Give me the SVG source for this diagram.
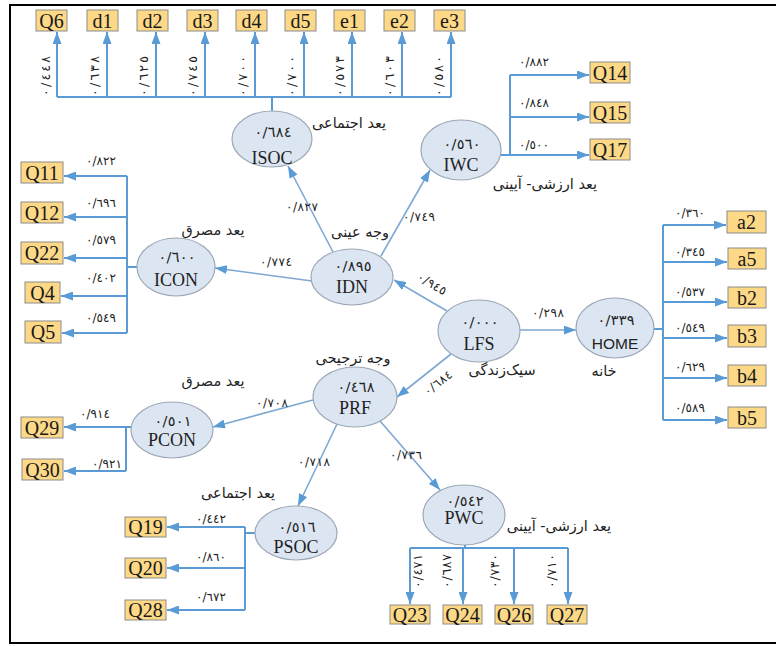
<svg xmlns="http://www.w3.org/2000/svg" width="776" height="646" viewBox="0 0 776 646">
<defs>
<style>
.frame{fill:none;stroke:#000;stroke-width:2}
.box rect{fill:#FCD887;stroke:#8C8C8C;stroke-width:1}
.box text{font-family:"Liberation Serif",serif;font-size:20px;fill:#1a1a1a;text-anchor:middle}
.node ellipse{fill:#DCE6F2;stroke:#9DA8B6;stroke-width:1.2}
.val{font-family:"DejaVu Sans",sans-serif;font-size:14.5px;fill:#222;text-anchor:middle}
.nm{font-family:"Liberation Serif",serif;font-size:18px;fill:#222;text-anchor:middle}
.nms{font-family:"Liberation Sans",sans-serif;font-size:15.5px;fill:#222;text-anchor:middle}
.fa{font-family:"DejaVu Sans",sans-serif;font-size:14.5px;fill:#222;text-anchor:middle;direction:rtl}
.bus{fill:none;stroke:#5B9BD5;stroke-width:2}
.ln{fill:none;stroke:#7EA8D3;stroke-width:1.6}
.el{font-family:"DejaVu Sans",sans-serif;font-size:12px;fill:#222;text-anchor:middle}
.er{font-family:"DejaVu Sans",sans-serif;font-size:12.5px;fill:#222;text-anchor:middle}
</style>
<marker id="ah" viewBox="0 0 12 9" refX="12" refY="4.5" markerWidth="12" markerHeight="9" markerUnits="userSpaceOnUse" orient="auto"><path d="M0,0 L12,4.5 L0,9 z" fill="#5B9BD5"/></marker>
</defs>
<rect x="0" y="0" width="776" height="646" fill="#fff"/>
<rect class="frame" x="10" y="5" width="775" height="638"/>

<g id="connectors">
<path class="bus" d="M57,97 H451 M272,111 V97"/>
<path class="bus" marker-end="url(#ah)" d="M57,97 V32"/>
<path class="bus" marker-end="url(#ah)" d="M107,97 V32"/>
<path class="bus" marker-end="url(#ah)" d="M156,97 V32"/>
<path class="bus" marker-end="url(#ah)" d="M205,97 V32"/>
<path class="bus" marker-end="url(#ah)" d="M255,97 V32"/>
<path class="bus" marker-end="url(#ah)" d="M304,97 V32"/>
<path class="bus" marker-end="url(#ah)" d="M352,97 V32"/>
<path class="bus" marker-end="url(#ah)" d="M402,97 V32"/>
<path class="bus" marker-end="url(#ah)" d="M451,97 V32"/>

<path class="bus" d="M500,155 H510 M510,75 V155"/>
<path class="bus" marker-end="url(#ah)" d="M510,75 H589"/>
<path class="bus" marker-end="url(#ah)" d="M510,117 H589"/>
<path class="bus" marker-end="url(#ah)" d="M510,155 H589"/>

<path class="bus" d="M137,267 H127 M127,176 V333"/>
<path class="bus" marker-end="url(#ah)" d="M127,176 H64"/>
<path class="bus" marker-end="url(#ah)" d="M127,217 H64"/>
<path class="bus" marker-end="url(#ah)" d="M127,258 H64"/>
<path class="bus" marker-end="url(#ah)" d="M127,296 H61"/>
<path class="bus" marker-end="url(#ah)" d="M127,333 H62"/>

<path class="bus" d="M653,329 H663 M663,225 V420"/>
<path class="bus" marker-end="url(#ah)" d="M663,225 H726"/>
<path class="bus" marker-end="url(#ah)" d="M663,262 H727"/>
<path class="bus" marker-end="url(#ah)" d="M663,302 H727"/>
<path class="bus" marker-end="url(#ah)" d="M663,338 H727"/>
<path class="bus" marker-end="url(#ah)" d="M663,378 H727"/>
<path class="bus" marker-end="url(#ah)" d="M663,420 H727"/>

<path class="bus" d="M131,427 H126 M126,427 V471"/>
<path class="bus" marker-end="url(#ah)" d="M126,427 H64"/>
<path class="bus" marker-end="url(#ah)" d="M126,471 H64"/>

<path class="bus" d="M255,533 H245 M245,527 V610"/>
<path class="bus" marker-end="url(#ah)" d="M245,527 H167"/>
<path class="bus" marker-end="url(#ah)" d="M245,568 H167"/>
<path class="bus" marker-end="url(#ah)" d="M245,610 H167"/>

<path class="bus" d="M465,545 V548 M410,548 H568"/>
<path class="bus" marker-end="url(#ah)" d="M410,548 V604"/>
<path class="bus" marker-end="url(#ah)" d="M463,548 V604"/>
<path class="bus" marker-end="url(#ah)" d="M514,548 V604"/>
<path class="bus" marker-end="url(#ah)" d="M568,548 V604"/>

<path class="ln" marker-end="url(#ah)" d="M312,281 L215,268"/>
<path class="ln" marker-end="url(#ah)" d="M333,252 L288,166"/>
<path class="ln" marker-end="url(#ah)" d="M381,256 L430,170"/>
<path class="ln" marker-end="url(#ah)" d="M447,311 L394,280"/>
<path class="ln" marker-end="url(#ah)" d="M520,330 L576,330"/>
<path class="ln" marker-end="url(#ah)" d="M451,354 L397,397"/>
<path class="ln" marker-end="url(#ah)" d="M313,400 L213,427"/>
<path class="ln" marker-end="url(#ah)" d="M337,424 L298,506"/>
<path class="ln" marker-end="url(#ah)" d="M380,421 L440,490"/>
</g>

<g id="edge-labels">
<text class="er" transform="translate(50,76) rotate(-90)" textLength="40" lengthAdjust="spacing">٠/٤٤٨</text>
<text class="er" transform="translate(99,76) rotate(-90)" textLength="40" lengthAdjust="spacing">٠/٦٣٨</text>
<text class="er" transform="translate(148,76) rotate(-90)" textLength="40" lengthAdjust="spacing">٠/٦٢٥</text>
<text class="er" transform="translate(197,76) rotate(-90)" textLength="40" lengthAdjust="spacing">٠/٧٤٥</text>
<text class="er" transform="translate(247,76) rotate(-90)" textLength="40" lengthAdjust="spacing">٠/٧٠٠</text>
<text class="er" transform="translate(296,76) rotate(-90)" textLength="40" lengthAdjust="spacing">٠/٧٠٠</text>
<text class="er" transform="translate(344,76) rotate(-90)" textLength="40" lengthAdjust="spacing">٠/٥٧٣</text>
<text class="er" transform="translate(394,76) rotate(-90)" textLength="40" lengthAdjust="spacing">٠/٦٠٣</text>
<text class="er" transform="translate(443,76) rotate(-90)" textLength="40" lengthAdjust="spacing">٠/٥٨٠</text>

<text class="el" x="534" y="66" textLength="30" lengthAdjust="spacing">٠/٨٨٢</text>
<text class="el" x="534" y="107" textLength="30" lengthAdjust="spacing">٠/٨٤٨</text>
<text class="el" x="534" y="149" textLength="30" lengthAdjust="spacing">٠/٥٠٠</text>

<text class="el" x="101" y="165" textLength="30" lengthAdjust="spacing">٠/٨٢٢</text>
<text class="el" x="101" y="207" textLength="30" lengthAdjust="spacing">٠/٦٩٦</text>
<text class="el" x="101" y="244" textLength="30" lengthAdjust="spacing">٠/٥٧٩</text>
<text class="el" x="101" y="282" textLength="30" lengthAdjust="spacing">٠/٤٠٢</text>
<text class="el" x="101" y="322" textLength="30" lengthAdjust="spacing">٠/٥٤٩</text>

<text class="el" x="690" y="217" textLength="30" lengthAdjust="spacing">٠/٣٦٠</text>
<text class="el" x="690" y="256" textLength="30" lengthAdjust="spacing">٠/٣٤٥</text>
<text class="el" x="690" y="296" textLength="30" lengthAdjust="spacing">٠/٥٣٧</text>
<text class="el" x="690" y="332" textLength="30" lengthAdjust="spacing">٠/٥٤٩</text>
<text class="el" x="690" y="371" textLength="30" lengthAdjust="spacing">٠/٦٢٩</text>
<text class="el" x="690" y="412" textLength="30" lengthAdjust="spacing">٠/٥٨٩</text>

<text class="el" x="95" y="418" textLength="30" lengthAdjust="spacing">٠/٩١٤</text>
<text class="el" x="107" y="468" textLength="30" lengthAdjust="spacing">٠/٩٢١</text>

<text class="el" x="211" y="523" textLength="30" lengthAdjust="spacing">٠/٤٤٢</text>
<text class="el" x="211" y="561" textLength="30" lengthAdjust="spacing">٠/٨٦٠</text>
<text class="el" x="211" y="601" textLength="30" lengthAdjust="spacing">٠/٦٧٢</text>

<text class="er" transform="translate(422,571) rotate(-90)" textLength="34" lengthAdjust="spacing">٠/٤٧١</text>
<text class="er" transform="translate(451,571) rotate(-90)" textLength="34" lengthAdjust="spacing">٠/٦٨٧</text>
<text class="er" transform="translate(499,571) rotate(-90)" textLength="34" lengthAdjust="spacing">٠/٧٣٠</text>
<text class="er" transform="translate(556,571) rotate(-90)" textLength="34" lengthAdjust="spacing">٠/٧١٠</text>

<text class="el" x="276" y="266" textLength="32" lengthAdjust="spacing">٠/٧٧٤</text>
<text class="el" x="302" y="211" textLength="32" lengthAdjust="spacing">٠/٨٢٧</text>
<text class="el" x="419" y="221" textLength="32" lengthAdjust="spacing">٠/٧٤٩</text>
<text class="el" transform="translate(432,284) rotate(31)" y="4" textLength="32" lengthAdjust="spacing">٠/٩٤٥</text>
<text class="el" x="548" y="317" textLength="32" lengthAdjust="spacing">٠/٢٩٨</text>
<text class="el" transform="translate(438,383) rotate(-38)" y="4" textLength="32" lengthAdjust="spacing">٠/٦٨٤</text>
<text class="el" x="272" y="407" textLength="32" lengthAdjust="spacing">٠/٧٠٨</text>
<text class="el" x="314" y="466" textLength="32" lengthAdjust="spacing">٠/٧١٨</text>
<text class="el" x="406" y="459" textLength="32" lengthAdjust="spacing">٠/٧٣٦</text>
</g>

<g id="n-ISOC" class="node"><ellipse cx="272" cy="139" rx="40" ry="28"/><text class="val" x="273" y="137" textLength="37" lengthAdjust="spacing">٠/٦٨٤</text><text class="nm" x="272" y="164">ISOC</text><text class="fa" x="349" y="128">یعد اجتماعی</text></g>
<g id="n-IWC" class="node"><ellipse cx="461" cy="150" rx="40" ry="30"/><text class="val" x="462" y="149" textLength="37" lengthAdjust="spacing">٠/٥٦٠</text><text class="nm" x="461" y="171">IWC</text><text class="fa" x="545" y="189">یعد ارزشی- آیینی</text></g>
<g id="n-ICON" class="node"><ellipse cx="176" cy="267" rx="39" ry="29"/><text class="val" x="177" y="262" textLength="37" lengthAdjust="spacing">٠/٦٠٠</text><text class="nm" x="176" y="286">ICON</text><text class="fa" x="213" y="235">یعد مصرق</text></g>
<g id="n-IDN" class="node"><ellipse cx="352" cy="277" rx="41" ry="28"/><text class="val" x="353" y="271" textLength="37" lengthAdjust="spacing">٠/٨٩٥</text><text class="nm" x="352" y="293">IDN</text><text class="fa" x="360" y="237">وجه عینی</text></g>
<g id="n-LFS" class="node"><ellipse cx="479" cy="331" rx="41" ry="31"/><text class="val" x="480" y="327" textLength="37" lengthAdjust="spacing">٠/٠٠٠</text><text class="nm" x="479" y="350">LFS</text><text class="fa" x="502" y="375">سیک‌زندگی</text></g>
<g id="n-HOME" class="node"><ellipse cx="615" cy="328" rx="39" ry="30"/><text class="val" x="616" y="325" textLength="37" lengthAdjust="spacing">٠/٣٣٩</text><text class="nms" x="615" y="349">HOME</text><text class="fa" x="604" y="376">خانه</text></g>
<g id="n-PRF" class="node"><ellipse cx="355" cy="397" rx="42" ry="30"/><text class="val" x="356" y="392" textLength="37" lengthAdjust="spacing">٠/٤٦٨</text><text class="nm" x="355" y="414">PRF</text><text class="fa" x="353" y="363">وجه ترجیحی</text></g>
<g id="n-PCON" class="node"><ellipse cx="172" cy="430" rx="41" ry="28"/><text class="val" x="173" y="426" textLength="37" lengthAdjust="spacing">٠/٥٠١</text><text class="nm" x="172" y="446">PCON</text><text class="fa" x="213" y="386">یعد مصرق</text></g>
<g id="n-PSOC" class="node"><ellipse cx="296" cy="533" rx="41" ry="27"/><text class="val" x="297" y="532" textLength="37" lengthAdjust="spacing">٠/٥١٦</text><text class="nm" x="296" y="553">PSOC</text><text class="fa" x="238" y="498">یعد اجتماعی</text></g>
<g id="n-PWC" class="node"><ellipse cx="464" cy="515" rx="41" ry="30"/><text class="val" x="465" y="506" textLength="37" lengthAdjust="spacing">٠/٥٤٢</text><text class="nm" x="464" y="524">PWC</text><text class="fa" x="559" y="531">یعد ارزشی- آیینی</text></g>

<g id="b-Q6" class="box"><rect x="36" y="10" width="31" height="21"/><text x="51.5" y="27.5">Q6</text></g>
<g id="b-d1" class="box"><rect x="87" y="10" width="31" height="21"/><text x="102.5" y="27.5">d1</text></g>
<g id="b-d2" class="box"><rect x="137" y="10" width="31" height="21"/><text x="152.5" y="27.5">d2</text></g>
<g id="b-d3" class="box"><rect x="187" y="10" width="31" height="21"/><text x="202.5" y="27.5">d3</text></g>
<g id="b-d4" class="box"><rect x="236" y="10" width="31" height="21"/><text x="251.5" y="27.5">d4</text></g>
<g id="b-d5" class="box"><rect x="285" y="10" width="31" height="21"/><text x="300.5" y="27.5">d5</text></g>
<g id="b-e1" class="box"><rect x="334" y="10" width="31" height="21"/><text x="349.5" y="27.5">e1</text></g>
<g id="b-e2" class="box"><rect x="384" y="10" width="31" height="21"/><text x="399.5" y="27.5">e2</text></g>
<g id="b-e3" class="box"><rect x="434" y="10" width="31" height="21"/><text x="449.5" y="27.5">e3</text></g>

<g id="b-Q14" class="box"><rect x="590" y="62" width="40" height="21"/><text x="610" y="79.5">Q14</text></g>
<g id="b-Q15" class="box"><rect x="590" y="102" width="40" height="21"/><text x="610" y="119.5">Q15</text></g>
<g id="b-Q17" class="box"><rect x="590" y="139" width="40" height="21"/><text x="610" y="156.5">Q17</text></g>

<g id="b-Q11" class="box"><rect x="21" y="162" width="42" height="21"/><text x="42" y="179.5">Q11</text></g>
<g id="b-Q12" class="box"><rect x="21" y="202" width="42" height="21"/><text x="42" y="219.5">Q12</text></g>
<g id="b-Q22" class="box"><rect x="21" y="242" width="42" height="22"/><text x="42" y="260">Q22</text></g>
<g id="b-Q4" class="box"><rect x="25" y="282" width="35" height="21"/><text x="42.5" y="299.5">Q4</text></g>
<g id="b-Q5" class="box"><rect x="25" y="321" width="36" height="22"/><text x="43" y="339">Q5</text></g>

<g id="b-a2" class="box"><rect x="727" y="211" width="39" height="22"/><text x="746.5" y="229">a2</text></g>
<g id="b-a5" class="box"><rect x="728" y="248" width="38" height="21"/><text x="747" y="265.5">a5</text></g>
<g id="b-b2" class="box"><rect x="728" y="287" width="38" height="21"/><text x="747" y="304.5">b2</text></g>
<g id="b-b3" class="box"><rect x="728" y="325" width="38" height="22"/><text x="747" y="343">b3</text></g>
<g id="b-b4" class="box"><rect x="728" y="365" width="38" height="21"/><text x="747" y="382.5">b4</text></g>
<g id="b-b5" class="box"><rect x="728" y="407" width="38" height="21"/><text x="747" y="424.5">b5</text></g>

<g id="b-Q29" class="box"><rect x="21" y="417" width="42" height="21"/><text x="42" y="434.5">Q29</text></g>
<g id="b-Q30" class="box"><rect x="22" y="459" width="41" height="21"/><text x="42.5" y="476.5">Q30</text></g>

<g id="b-Q19" class="box"><rect x="125" y="517" width="41" height="20"/><text x="145.5" y="534">Q19</text></g>
<g id="b-Q20" class="box"><rect x="125" y="558" width="41" height="20"/><text x="145.5" y="575">Q20</text></g>
<g id="b-Q28" class="box"><rect x="125" y="600" width="41" height="20"/><text x="145.5" y="617">Q28</text></g>

<g id="b-Q23" class="box"><rect x="390" y="605" width="40" height="19"/><text x="410" y="621.5">Q23</text></g>
<g id="b-Q24" class="box"><rect x="443" y="605" width="39" height="19"/><text x="462.5" y="621.5">Q24</text></g>
<g id="b-Q26" class="box"><rect x="495" y="605" width="38" height="19"/><text x="514" y="621.5">Q26</text></g>
<g id="b-Q27" class="box"><rect x="547" y="605" width="40" height="19"/><text x="567" y="621.5">Q27</text></g>
</svg>
